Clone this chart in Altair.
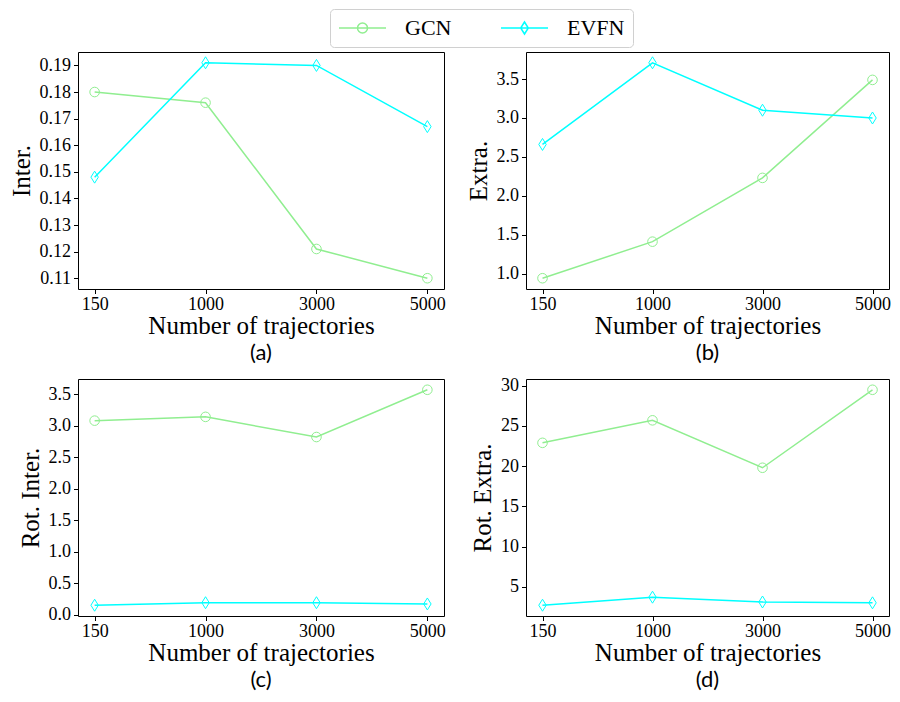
import altair as alt
import pandas as pd

cats = ["150", "1000", "3000", "5000"]
series = ["GCN", "EVFN"]

inter_gcn = [0.180, 0.176, 0.121, 0.110]
inter_evfn = [0.148, 0.191, 0.190, 0.167]
extra_gcn = [0.94, 1.41, 2.23, 3.49]
extra_evfn = [2.66, 3.71, 3.10, 3.00]
rot_inter_gcn = [3.08, 3.14, 2.82, 3.57]
rot_inter_evfn = [0.15, 0.19, 0.19, 0.17]
rot_extra_gcn = [22.9, 25.7, 19.8, 29.5]
rot_extra_evfn = [2.7, 3.7, 3.1, 3.0]

inter_ticks = [0.11, 0.12, 0.13, 0.14, 0.15, 0.16, 0.17, 0.18, 0.19]
extra_ticks = [1.0, 1.5, 2.0, 2.5, 3.0, 3.5]
rot_inter_ticks = [0.0, 0.5, 1.0, 1.5, 2.0, 2.5, 3.0, 3.5]
rot_extra_ticks = [5, 10, 15, 20, 25, 30]

GREEN = "#90EE90"
CYAN = "#00FFFF"

CIRCLE = "M-0.8,0A0.8,0.8 0 1,0 0.8,0A0.8,0.8 0 1,0 -0.8,0Z"
DIAMOND = "M0,-1L0.62,0L0,1L-0.62,0Z"
# legend glyphs (symbol size 400 -> 10px per unit): line 47px with marker in the middle
GCN_LEG = "M-1,0L3.7,0M0.85,0A0.5,0.5 0 1,0 1.85,0A0.5,0.5 0 1,0 0.85,0Z"
EVFN_LEG = "M-1,0L3.7,0M1.35,-0.6L1.73,0L1.35,0.6L0.97,0Z"

H = 237


def margin_domain(vals):
    lo, hi = min(vals), max(vals)
    m = (hi - lo) * 0.05
    return [lo - m, hi + m]


def panel(gcn, evfn, ytitle, ticks, fmt, label, w, with_legend=False):
    df = pd.DataFrame({
        "n": cats * 2,
        "v": gcn + evfn,
        "series": ["GCN"] * 4 + ["EVFN"] * 4,
    })
    x = alt.X("n:N", sort=cats,
              scale=alt.Scale(type="point", padding=0.15),
              axis=alt.Axis(title="Number of trajectories", labelAngle=0))
    y = alt.Y("v:Q",
              scale=alt.Scale(domain=margin_domain(gcn + evfn), nice=False, zero=False),
              axis=alt.Axis(title=ytitle, values=ticks, format=fmt))
    layers = []
    for s, col, shp in [("GCN", GREEN, CIRCLE), ("EVFN", CYAN, DIAMOND)]:
        b = alt.Chart(df).transform_filter(alt.datum.series == s).encode(x=x, y=y)
        layers.append(b.mark_line(color=col, strokeWidth=1.5))
        layers.append(b.mark_point(shape=shp, size=144, color=col, filled=False,
                                   strokeWidth=1, opacity=1))
    if with_legend:
        leg = alt.Legend(title=None, orient="none", legendX=252, legendY=-43,
                         direction="horizontal")
        layers.append(
            alt.Chart(df).mark_point(xOffset=5000, clip=True, filled=False,
                                     size=400, strokeWidth=1.5, opacity=1)
            .encode(
                x=x, y=y,
                color=alt.Color("series:N",
                                scale=alt.Scale(domain=series, range=[GREEN, CYAN]),
                                legend=leg),
                shape=alt.Shape("series:N",
                                scale=alt.Scale(domain=series, range=[GCN_LEG, EVFN_LEG]),
                                legend=leg),
            )
        )
    return alt.layer(*layers).properties(
        width=w, height=H,
        title=alt.TitleParams(label, orient="bottom", anchor="middle", offset=4),
    )


pa = panel(inter_gcn, inter_evfn, "Inter.", inter_ticks, ".2f", "(a)", 366, with_legend=True)
pb = panel(extra_gcn, extra_evfn, "Extra.", extra_ticks, ".1f", "(b)", 363)
pc = panel(rot_inter_gcn, rot_inter_evfn, "Rot. Inter.", rot_inter_ticks, ".1f", "(c)", 366)
pd_ = panel(rot_extra_gcn, rot_extra_evfn, "Rot. Extra.", rot_extra_ticks, "d", "(d)", 363)

chart = alt.concat(pa, pb, pc, pd_, columns=2,
                   spacing=alt.RowColnumber(row=12, column=19)).properties(
    padding={"left": 0, "top": 0, "right": 0, "bottom": 0}
).configure_view(
    stroke="black", strokeWidth=1
).configure_axis(
    domain=False, grid=False, tickColor="black", tickSize=4.5, tickWidth=1,
    labelFont="Liberation Serif", labelFontSize=18, labelColor="black",
    titleFont="Liberation Serif", titleFontSize=25, titleFontWeight="normal",
    titleColor="black"
).configure_axisX(
    labelPadding=2, titlePadding=0
).configure_axisY(
    labelPadding=3, titlePadding=5
).configure_legend(
    padding=8, strokeColor="#d0d0d0", cornerRadius=4, fillColor="white",
    labelFont="Liberation Serif", labelFontSize=22, labelColor="black",
    labelOffset=45, columnPadding=46, symbolSize=400, symbolStrokeWidth=1.5,
    symbolFillColor="transparent"
).configure_title(
    font="Lato", fontSize=22, fontWeight="normal", color="black"
)

chart.save("out.html", embed_options={"renderer": "svg", "actions": False})
